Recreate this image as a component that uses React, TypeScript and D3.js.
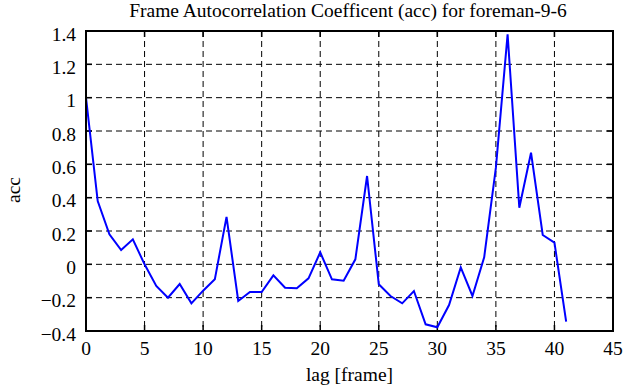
import React from 'react'
import * as d3 from 'd3'

const lags = [0, 1, 2, 3, 4, 5, 6, 7, 8, 9, 10, 11, 12, 13, 14, 15, 16, 17, 18, 19, 20,
  21, 22, 23, 24, 25, 26, 27, 28, 29, 30, 31, 32, 33, 34, 35, 36, 37, 38, 39, 40, 41]
const acc = [1.0, 0.38, 0.18, 0.086, 0.15, 0.0, -0.13, -0.2, -0.118, -0.234, -0.158, -0.09,
  0.285, -0.22, -0.166, -0.166, -0.066, -0.14, -0.144, -0.084, 0.072, -0.09, -0.098, 0.03,
  0.53, -0.12, -0.19, -0.234, -0.16, -0.36, -0.378, -0.244, -0.018, -0.19, 0.042, 0.58,
  1.38, 0.34, 0.67, 0.176, 0.13, -0.344]
const xTicks = [0, 5, 10, 15, 20, 25, 30, 35, 40, 45]
const yTicks = [-0.4, -0.2, 0, 0.2, 0.4, 0.6, 0.8, 1, 1.2, 1.4]

const W = 630
const H = 387
const left = 86
const right = 613
const top = 31
const bottom = 331
const font = '"Liberation Serif", "Times New Roman", serif'
const fs = 19.5

export default function App() {
  const x = d3.scaleLinear().domain([0, 45]).range([left, right])
  const y = d3.scaleLinear().domain([-0.4, 1.4]).range([bottom, top])

  const line = d3.line<number>()
    .x((d, i) => x(lags[i]))
    .y(d => y(d))

  const tickLen = 6

  return (
    <svg width={W} height={H} style={{ position: 'absolute', left: 0, top: 0, background: '#fff' }}>
      <text x={348} y={17} textAnchor="middle" fontFamily={font} fontSize={fs}>
        Frame Autocorrelation Coefficent (acc) for foreman-9-6
      </text>

      {/* grid */}
      {xTicks.slice(1, -1).map(t => (
        <line key={'gx' + t} x1={x(t)} x2={x(t)} y1={top} y2={bottom}
          stroke="#000" strokeWidth={1} strokeDasharray="6,4" />
      ))}
      {yTicks.slice(1, -1).map(t => (
        <line key={'gy' + t} x1={left} x2={right} y1={y(t)} y2={y(t)}
          stroke="#000" strokeWidth={1} strokeDasharray="6,4" />
      ))}

      {/* ticks, inward on all sides */}
      {xTicks.map(t => (
        <g key={'tx' + t}>
          <line x1={x(t)} x2={x(t)} y1={bottom} y2={bottom - tickLen} stroke="#000" strokeWidth={1.5} />
          <line x1={x(t)} x2={x(t)} y1={top} y2={top + tickLen} stroke="#000" strokeWidth={1.5} />
          <text x={x(t)} y={bottom + 24} textAnchor="middle" fontFamily={font} fontSize={fs}>{t}</text>
        </g>
      ))}
      {yTicks.map(t => (
        <g key={'ty' + t}>
          <line x1={left} x2={left + tickLen} y1={y(t)} y2={y(t)} stroke="#000" strokeWidth={1.5} />
          <line x1={right} x2={right - tickLen} y1={y(t)} y2={y(t)} stroke="#000" strokeWidth={1.5} />
          <text x={left - 10} y={y(t) + 9.5} textAnchor="end" fontFamily={font} fontSize={fs}>{d3.format('')(t)}</text>
        </g>
      ))}

      <path d={line(acc) || ''} fill="none" stroke="#0000ff" strokeWidth={2} />

      <rect x={left} y={top} width={right - left} height={bottom - top}
        fill="none" stroke="#000" strokeWidth={2} />

      <text x={349.5} y={381} textAnchor="middle" fontFamily={font} fontSize={fs}>lag [frame]</text>
      <text transform={`translate(20, 190) rotate(-90)`} textAnchor="middle"
        fontFamily={font} fontSize={fs}>acc</text>
    </svg>
  )
}
